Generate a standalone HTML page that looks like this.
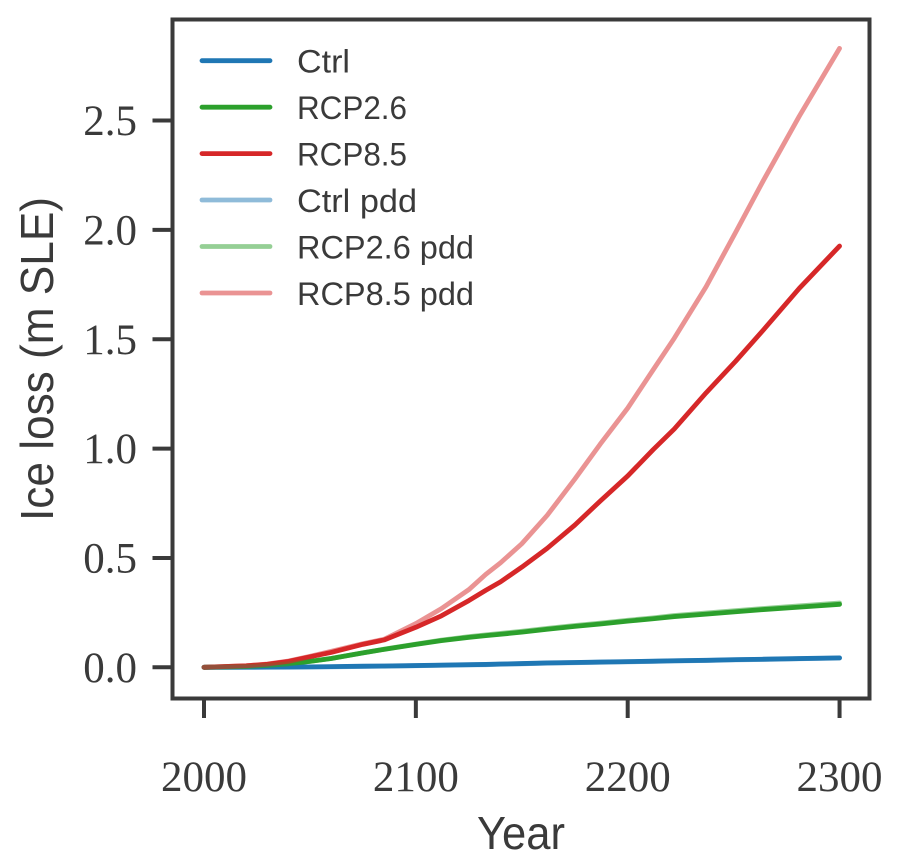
<!DOCTYPE html>
<html lang="en">
<head>
<meta charset="utf-8">
<title>Ice loss chart</title>
<style>
html,body{margin:0;padding:0;background:#fff;width:900px;height:868px;overflow:hidden}
svg{display:block}
.tick-label{font-family:"Liberation Serif",serif;font-size:43px;fill:#3a3a3a}
.axis-title{font-family:"Liberation Sans",sans-serif;font-size:46px;fill:#3a3a3a}
.legend-text{font-family:"Liberation Sans",sans-serif;font-size:32px;fill:#3a3a3a}
</style>
</head>
<body>
<svg id="chart" xmlns="http://www.w3.org/2000/svg" width="900" height="868" viewBox="0 0 900 868">
  <rect x="0" y="0" width="900" height="868" fill="#fff"/>
  <g id="series"></g>
  <g id="ticks"></g>
  <rect x="172.5" y="19.5" width="697" height="679" fill="none" stroke="#3a3a3a" stroke-width="4"/>
  <text class="axis-title" x="477" y="849" textLength="88" lengthAdjust="spacingAndGlyphs">Year</text>
  <text class="axis-title" transform="translate(53,521) rotate(-90)" x="0" y="0" textLength="324" lengthAdjust="spacingAndGlyphs">Ice loss (m SLE)</text>
  <g>
    <g>
      <line x1="202" y1="60.7" x2="270" y2="60.7" stroke="#1f77b4" stroke-width="4.8" stroke-linecap="round"/>
      <text class="legend-text" x="297" y="72.7" textLength="53" lengthAdjust="spacingAndGlyphs">Ctrl</text>
    </g>
    <g>
      <line x1="202" y1="107.2" x2="270" y2="107.2" stroke="#2ca02c" stroke-width="4.8" stroke-linecap="round"/>
      <text class="legend-text" x="297" y="119.2" textLength="110" lengthAdjust="spacingAndGlyphs">RCP2.6</text>
    </g>
    <g>
      <line x1="202" y1="153.6" x2="270" y2="153.6" stroke="#d62728" stroke-width="4.8" stroke-linecap="round"/>
      <text class="legend-text" x="297" y="165.6" textLength="110" lengthAdjust="spacingAndGlyphs">RCP8.5</text>
    </g>
    <g>
      <line x1="202" y1="200" x2="270" y2="200" stroke="#1f77b4" stroke-opacity="0.5" stroke-width="4.8" stroke-linecap="round"/>
      <text class="legend-text" x="297" y="212" textLength="120" lengthAdjust="spacingAndGlyphs">Ctrl pdd</text>
    </g>
    <g>
      <line x1="202" y1="246.5" x2="270" y2="246.5" stroke="#2ca02c" stroke-opacity="0.5" stroke-width="4.8" stroke-linecap="round"/>
      <text class="legend-text" x="297" y="258.5" textLength="177" lengthAdjust="spacingAndGlyphs">RCP2.6 pdd</text>
    </g>
    <g>
      <line x1="202" y1="293" x2="270" y2="293" stroke="#d62728" stroke-opacity="0.5" stroke-width="4.8" stroke-linecap="round"/>
      <text class="legend-text" x="297" y="305" textLength="177" lengthAdjust="spacingAndGlyphs">RCP8.5 pdd</text>
    </g>
  </g>
</svg>
<script>
const years = [2000,2020,2030,2040,2050,2060,2075,2085,2100,2112,2125,2133,2140,2150,2162,2175,2187,2200,2212,2222,2237,2251,2264,2281,2300];
const ctrl = [0,0.0005,0.0008,0.001,0.002,0.003,0.005,0.006,0.008,0.01,0.012,0.013,0.015,0.017,0.02,0.022,0.024,0.026,0.028,0.03,0.032,0.035,0.037,0.04,0.043];
const rcp26 = [0,0.004,0.009,0.016,0.027,0.04,0.066,0.082,0.105,0.122,0.137,0.145,0.151,0.161,0.174,0.187,0.198,0.211,0.222,0.232,0.243,0.254,0.264,0.275,0.288];
const rcp85 = [0,0.007,0.014,0.027,0.048,0.068,0.105,0.125,0.183,0.235,0.305,0.352,0.391,0.458,0.544,0.65,0.76,0.875,0.995,1.09,1.255,1.4,1.542,1.733,1.926];
const ctrlPdd = [0,0.0003,0.0005,0.0008,0.0015,0.002,0.004,0.005,0.007,0.009,0.011,0.012,0.014,0.016,0.019,0.021,0.023,0.025,0.027,0.029,0.031,0.034,0.036,0.039,0.042];
const rcp26Pdd = [0,0.004,0.009,0.016,0.027,0.04,0.066,0.083,0.106,0.124,0.14,0.148,0.155,0.165,0.178,0.191,0.202,0.215,0.226,0.237,0.248,0.259,0.269,0.281,0.294];
const rcp85Pdd = [0,0.007,0.015,0.029,0.05,0.073,0.108,0.128,0.2,0.268,0.355,0.425,0.478,0.565,0.695,0.86,1.02,1.185,1.36,1.505,1.74,1.99,2.225,2.52,2.83];
const xTickValues = [2000,2100,2200,2300];
const xTickLabels = ["2000","2100","2200","2300"];
const yTickValues = [0,0.5,1,1.5,2,2.5];
const yTickLabels = ["0.0","0.5","1.0","1.5","2.0","2.5"];

const NS = "http://www.w3.org/2000/svg";
function xScale(year){ return 204 + (year - 2000) * 2.1185; }
function yScale(v){ return 667.3 - v * 218.7; }

const seriesGroup = document.getElementById("series");
const ticksGroup = document.getElementById("ticks");

function drawSeries(values, color, opacity, name){
  const path = document.createElementNS(NS, "path");
  
  
  path.setAttribute("d", values.map(function(v, i){
    return (i ? "L" : "M") + xScale(years[i]).toFixed(2) + " " + yScale(v).toFixed(2);
  }).join(" "));
  path.setAttribute("fill", "none");
  path.setAttribute("stroke", color);
  path.setAttribute("stroke-opacity", opacity);
  path.setAttribute("stroke-width", "4.8");
  path.setAttribute("stroke-linecap", "round");
  path.setAttribute("stroke-linejoin", "round");
  seriesGroup.appendChild(path);
}
drawSeries(ctrl, "#1f77b4", 1, "line-ctrl");
drawSeries(rcp26, "#2ca02c", 1, "line-rcp26");
drawSeries(rcp85, "#d62728", 1, "line-rcp85");
drawSeries(ctrlPdd, "#1f77b4", 0.5, "line-ctrl-pdd");
drawSeries(rcp26Pdd, "#2ca02c", 0.5, "line-rcp26-pdd");
drawSeries(rcp85Pdd, "#d62728", 0.5, "line-rcp85-pdd");

xTickValues.forEach(function(value, i){
  const x = xScale(value);
  const mark = document.createElementNS(NS, "line");
  
  
  mark.setAttribute("x1", x);
  mark.setAttribute("x2", x);
  mark.setAttribute("y1", 698);
  mark.setAttribute("y2", 718);
  mark.setAttribute("stroke", "#3a3a3a");
  mark.setAttribute("stroke-width", "4");
  ticksGroup.appendChild(mark);
  const label = document.createElementNS(NS, "text");
  
  
  label.setAttribute("class", "tick-label");
  label.setAttribute("x", x);
  label.setAttribute("y", 791);
  label.setAttribute("text-anchor", "middle");
  label.textContent = xTickLabels[i];
  ticksGroup.appendChild(label);
});

yTickValues.forEach(function(value, i){
  const y = yScale(value);
  const mark = document.createElementNS(NS, "line");
  
  
  mark.setAttribute("x1", 152.5);
  mark.setAttribute("x2", 172);
  mark.setAttribute("y1", y);
  mark.setAttribute("y2", y);
  mark.setAttribute("stroke", "#3a3a3a");
  mark.setAttribute("stroke-width", "4");
  ticksGroup.appendChild(mark);
  const label = document.createElementNS(NS, "text");
  
  
  label.setAttribute("class", "tick-label");
  label.setAttribute("x", 137);
  label.setAttribute("y", y + 14.5);
  label.setAttribute("text-anchor", "end");
  label.textContent = yTickLabels[i];
  ticksGroup.appendChild(label);
});
</script>
</body>
</html>
